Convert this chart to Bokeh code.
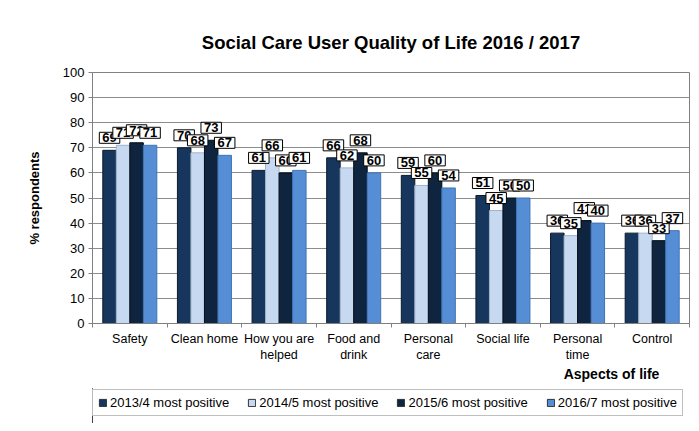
from bokeh.plotting import figure
from bokeh.models import (ColumnDataSource, Range1d, LinearAxis, FixedTicker, Legend, LegendItem)
from bokeh.layouts import column
from bokeh.core.properties import value
from bokeh.transform import dodge
from bokeh.embed import file_html
from bokeh.resources import INLINE

categories = ["Safety", "Clean home", "How you are\nhelped", "Food and\ndrink",
              "Personal\ncare", "Social life", "Personal\ntime", "Control"]
series_names = ["2013/4 most positive", "2014/5 most positive",
                "2015/6 most positive", "2016/7 most positive"]
v2013 = [69, 70, 61, 66, 59, 51, 36, 36]
v2014 = [71, 68, 66, 62, 55, 45, 35, 36]
v2015 = [72, 73, 60, 68, 60, 50, 41, 33]
v2016 = [71, 67, 61, 60, 54, 50, 40, 37]
y_ticks = list(range(0, 101, 10))
title_text = "Social Care User Quality of Life 2016 / 2017"
y_label = "% respondents"
x_label = "Aspects of life"

series_values = [v2013, v2014, v2015, v2016]
colors = ["#17365D", "#C6D9F1", "#0F243E", "#558ED5"]
outlines = ["#0b1a2c", "#9fb3cc", "#050d18", "#3f74b8"]
FONT = "Liberation Sans"

n = len(categories)
centers = [i + 0.5 for i in range(n)]

p = figure(width=691, height=388, x_range=Range1d(0, n), y_range=Range1d(0, 100),
           x_axis_location=None, output_backend="svg", toolbar_location=None,
           min_border_left=92, min_border_right=2, min_border_top=72, min_border_bottom=65)

p.title.text = title_text
p.title.align = "center"
p.title.text_font = FONT
p.title.text_font_size = "18.5px"
p.title.text_font_style = "bold"
p.title.text_color = "#000000"
p.title.standoff = 39

p.outline_line_color = "#808080"
p.xgrid.grid_line_color = None
p.ygrid.grid_line_color = "#8c8c8c"
p.ygrid.ticker = FixedTicker(ticks=y_ticks)

ya = p.yaxis[0]
ya.ticker = FixedTicker(ticks=y_ticks)
ya.major_tick_in = 0
ya.major_tick_out = 4
ya.minor_tick_line_color = None
ya.axis_line_color = "#808080"
ya.major_tick_line_color = "#808080"
ya.major_label_text_font = FONT
ya.major_label_text_font_size = "13px"
ya.major_label_text_color = "#000000"
ya.major_label_standoff = 4
ya.axis_label = y_label
ya.axis_label_text_font = FONT
ya.axis_label_text_font_size = "13px"
ya.axis_label_text_font_style = "bold"
ya.axis_label_text_color = "#000000"
ya.axis_label_standoff = 18

tick_axis = LinearAxis(ticker=FixedTicker(ticks=list(range(n + 1))),
                       major_tick_in=0, major_tick_out=4, minor_tick_line_color=None,
                       axis_line_color="#808080", major_tick_line_color="#808080",
                       major_label_text_font_size="0px", major_label_standoff=0)
p.add_layout(tick_axis, "below")
cat_axis = LinearAxis(ticker=FixedTicker(ticks=centers),
                      major_label_overrides={c: name for c, name in zip(centers, categories)},
                      axis_line_color=None, major_tick_line_color=None, minor_tick_line_color=None,
                      major_tick_in=0, major_tick_out=0,
                      major_label_text_font=FONT, major_label_text_font_size="12.5px",
                      major_label_text_color="#000000", major_label_standoff=4)
p.add_layout(cat_axis, "below")
xlabel_pos = 6.955
lab_axis = LinearAxis(ticker=FixedTicker(ticks=[xlabel_pos]),
                      major_label_overrides={xlabel_pos: x_label},
                      axis_line_color=None, major_tick_line_color=None, minor_tick_line_color=None,
                      major_tick_in=0, major_tick_out=0,
                      major_label_text_font=FONT, major_label_text_font_size="14px",
                      major_label_text_font_style="bold",
                      major_label_text_color="#000000", major_label_standoff=0)
p.add_layout(lab_axis, "below")

width = 0.181
for i, (name, vals) in enumerate(zip(series_names, series_values)):
    src = ColumnDataSource(dict(xc=centers, val=vals))
    off = (i - 1.5) * width
    p.vbar(x=dodge("xc", off), top="val", width=width, source=src,
           fill_color=colors[i], line_color=outlines[i], line_width=1)

for i, (name, vals) in enumerate(zip(series_names, series_values)):
    src = ColumnDataSource(dict(xc=centers, val=vals, txt=[str(v) for v in vals]))
    off = (i - 1.5) * width
    p.text(x=dodge("xc", off), y="val", text="txt", source=src,
           text_align="center", text_baseline="bottom", y_offset=-7,
           text_font=value(FONT), text_font_size="13px", text_font_style="bold",
           text_color="#000000", background_fill_color="#ffffff",
           border_line_color="#000000", border_line_width=1, padding=(3, 1))

# legend strip below the chart
pl = figure(width=691, height=35, x_range=Range1d(0, 1), y_range=Range1d(0, 1),
            x_axis_location=None, y_axis_location=None, output_backend="svg",
            toolbar_location=None, min_border=0)
pl.outline_line_color = None
pl.grid.visible = False
items = []
for i, name in enumerate(series_names):
    r = pl.vbar(x=[-10], top=[1], width=0.1, fill_color=colors[i], line_color="#333333",
                line_width=1)
    items.append(LegendItem(label=name, renderers=[r]))
legend = Legend(items=items, orientation="horizontal", location=(0, 7),
                label_text_font=FONT, label_text_font_size="13px", label_text_color="#000000",
                glyph_width=9, glyph_height=9, label_height=12,
                label_standoff=3, spacing=18, padding=5, margin=0,
                border_line_color="#808080", background_fill_color="#ffffff")
pl.add_layout(legend, "center")

layout = column(p, pl, spacing=0)
open("out.html", "w").write(file_html(layout, INLINE))
